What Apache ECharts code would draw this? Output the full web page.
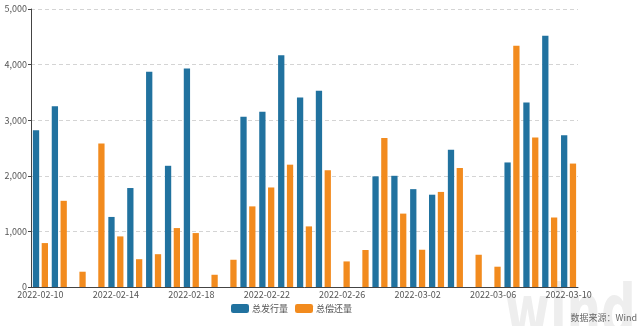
<!DOCTYPE html>
<html>
<head>
<meta charset="utf-8">
<script src="https://cdn.jsdelivr.net/npm/echarts@6/dist/echarts.min.js"></script>
<style>
  html, body { margin: 0; padding: 0; background: #ffffff; }
  #chart { width: 640px; height: 326px; }
</style>
</head>
<body>
<div id="chart"></div>
<script>
// Trading days from 2022-02-10 to 2022-03-10
const dates = [
  '2022-02-10', '2022-02-11', '2022-02-12', '2022-02-13', '2022-02-14',
  '2022-02-15', '2022-02-16', '2022-02-17', '2022-02-18', '2022-02-19',
  '2022-02-20', '2022-02-21', '2022-02-22', '2022-02-23', '2022-02-24',
  '2022-02-25', '2022-02-26', '2022-02-27', '2022-02-28', '2022-03-01',
  '2022-03-02', '2022-03-03', '2022-03-04', '2022-03-05', '2022-03-06',
  '2022-03-07', '2022-03-08', '2022-03-09', '2022-03-10'
];

// 总发行量 (total issuance)
const issuance = [
  2820, 3250, 0, 0, 1260, 1780, 3870, 2180, 3930, 0,
  0, 3060, 3150, 4170, 3410, 3530, 0, 0, 1990, 2000,
  1760, 1660, 2470, 0, 0, 2240, 3320, 4520, 2730
];

// 总偿还量 (total repayment)
const repayment = [
  790, 1550, 275, 2580, 910, 500, 590, 1060, 970, 220,
  490, 1450, 1790, 2200, 1090, 2100, 460, 665, 2680, 1320,
  670, 1710, 2140, 580, 365, 4340, 2690, 1250, 2220
];

const seriesNames = ['总发行量', '总偿还量'];
const yTicks = { min: 0, max: 5000, interval: 1000 };

const chart = echarts.init(document.getElementById('chart'), null, { renderer: 'canvas' });

const baseFont = '"Noto Sans CJK SC", "Noto Sans", sans-serif';

chart.setOption({
  animation: false,
  backgroundColor: '#ffffff',
  textStyle: { fontFamily: baseFont },
  graphic: [
    {
      // faint logo watermark in the lower right corner
      type: 'text',
      z: -10,
      silent: true,
      x: 505,
      y: 0,
      scaleX: 0.75,
      style: {
        x: 0,
        y: 352,
        text: 'wind',
        fill: '#eeeeee',
        verticalAlign: 'bottom',
        font: 'bold 72px "DejaVu Sans Condensed", "DejaVu Sans", sans-serif'
      }
    },
    {
      type: 'text',
      right: 3,
      top: 313,
      style: {
        text: '数据来源：Wind',
        fill: '#666666',
        font: '9px ' + baseFont
      }
    }
  ],
  grid: { left: 31, right: 62, top: 9, bottom: 39, containLabel: false },
  legend: {
    data: seriesNames,
    left: 231,
    top: 304,
    padding: 0,
    icon: 'roundRect',
    itemWidth: 18,
    itemHeight: 9,
    itemGap: 7,
    textStyle: { fontSize: 9, color: '#555555', fontFamily: baseFont, padding: [0, 0, 0, -2] }
  },
  xAxis: {
    type: 'category',
    data: dates,
    boundaryGap: true,
    axisLine: { lineStyle: { color: '#444444', width: 1 } },
    axisTick: {
      alignWithLabel: true,
      length: 3,
      interval: function (i) { return i % 4 === 2; },
      lineStyle: { color: '#444444' }
    },
    axisLabel: {
      interval: 3,
      fontSize: 9,
      color: '#555555',
      margin: 3,
      fontFamily: baseFont
    },
    splitLine: { show: false }
  },
  yAxis: {
    type: 'value',
    min: yTicks.min,
    max: yTicks.max,
    interval: yTicks.interval,
    axisLine: { show: true, lineStyle: { color: '#444444', width: 1 } },
    axisTick: { show: true, length: 3, lineStyle: { color: '#444444' } },
    axisLabel: {
      fontSize: 9,
      color: '#555555',
      margin: 4,
      fontFamily: baseFont,
      formatter: function (v) { return v.toLocaleString('en-US'); }
    },
    splitLine: { show: true, lineStyle: { color: '#d4d4d4', type: [4, 3], width: 1 } }
  },
  series: [
    {
      name: seriesNames[0],
      type: 'bar',
      data: issuance,
      barGap: '40%',
      barCategoryGap: '20%',
      itemStyle: { color: '#21729f' }
    },
    {
      name: seriesNames[1],
      type: 'bar',
      data: repayment,
      itemStyle: { color: '#f28b1e' }
    }
  ]
});
</script>
</body>
</html>
